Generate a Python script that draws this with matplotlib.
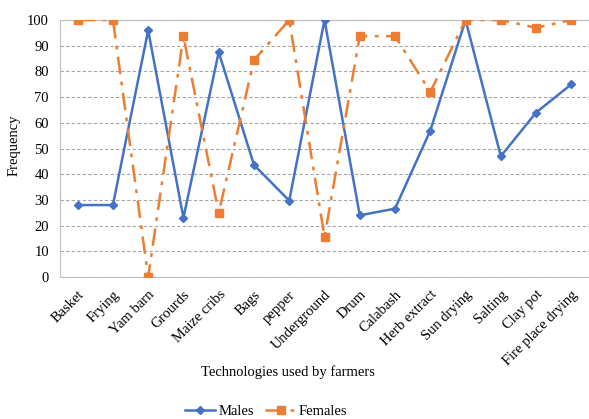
import numpy as np
import matplotlib.pyplot as plt

plt.rcParams['font.family'] = ['Liberation Serif', 'DejaVu Serif']

technologies = ['Basket', 'Frying', 'Yam barn', 'Grourds', 'Maize cribs', 'Bags', 'pepper',
                'Underground', 'Drum', 'Calabash', 'Herb extract', 'Sun drying', 'Salting',
                'Clay pot', 'Fire place drying']
males = [28, 28, 96, 23, 87.5, 43.6, 29.7, 100, 24, 26.6, 57, 100, 47, 64, 75]
females = [100, 100, 0, 93.6, 25, 84.4, 100, 15.6, 93.7, 93.7, 72, 100, 100, 97, 100]

fig = plt.figure(figsize=(5.89, 4.19), dpi=100)
ax = fig.add_axes([60/589, 1-277/419, 529/589, 257/419])

x = np.arange(len(technologies))
ax.plot(x, males, color='#4472C4', lw=1.8, marker='D', ms=4, label='Males', zorder=3)
ax.plot(x, females, color='#ED7D31', lw=1.8, marker='s', ms=5.5,
        linestyle=(0, (7, 3, 1.5, 3)), label='Females', zorder=3)

ax.set_xlim(-0.5, len(technologies) - 0.5)
ax.set_ylim(0, 100)
ax.set_yticks(range(0, 101, 10))
ax.yaxis.grid(True, linestyle=(0, (3, 2)), color='#a6a6a6', lw=0.8)
ax.set_axisbelow(True)
ax.spines['right'].set_visible(False)
for s in ['left', 'bottom', 'top']:
    ax.spines[s].set_color('#bfbfbf')
ax.tick_params(axis='both', length=0, labelsize=10.5)
ax.tick_params(axis='y', pad=8)
ax.tick_params(axis='x', pad=8)
ax.set_xticks(x)
ax.set_xticklabels(technologies, rotation=45, ha='right', rotation_mode='anchor', fontsize=10.5)

fig.text(14/589, 1-145/419, 'Frequency', rotation=90, ha='center', va='center', fontsize=10.5)
fig.text(288/589, 1-372/419, 'Technologies used by farmers', ha='center', va='center', fontsize=10.5)
fig.legend(loc='center', bbox_to_anchor=(266/589, 1-411/419), ncol=2, frameon=False,
           fontsize=10.5, handlelength=2.1, handletextpad=0.2, columnspacing=0.8)

fig.savefig('out.png', dpi=100)
